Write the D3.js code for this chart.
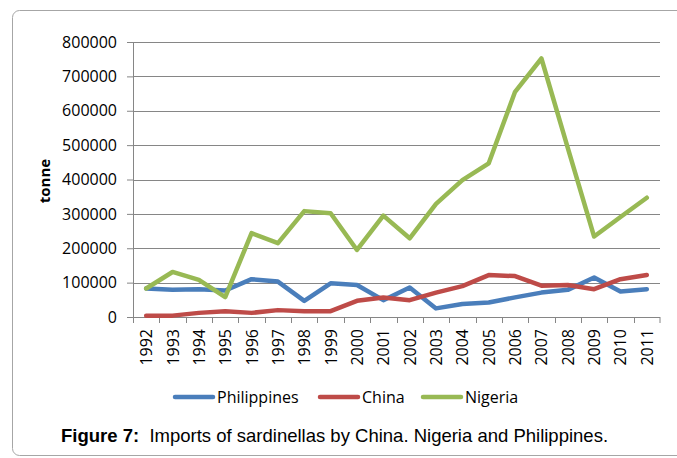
<!DOCTYPE html>
<html>
<head>
<meta charset="utf-8">
<script src="https://cdn.jsdelivr.net/npm/d3@7"></script>
<style>
  body { margin: 0; background: #fff; }
  svg text { font-family: "Open Sans", sans-serif; fill: #000; }
</style>
</head>
<body>
<script>
// data (tonnes)
const years = ["1992", "1993", "1994", "1995", "1996", "1997", "1998", "1999", "2000", "2001",
               "2002", "2003", "2004", "2005", "2006", "2007", "2008", "2009", "2010", "2011"];
const philippines = [83000, 79000, 81000, 77000, 110000, 103000, 47000, 98000, 93000, 49000,
                     86000, 25000, 38000, 42000, 57000, 71000, 79000, 115000, 74000, 81000];
const china = [4000, 4000, 12000, 17000, 12000, 20000, 17000, 17000, 47000, 57000,
               49000, 71000, 90000, 122000, 119000, 91000, 93000, 81000, 110000, 122000];
const nigeria = [83000, 131000, 108000, 58000, 244000, 215000, 308000, 302000, 195000, 295000,
                 229000, 329000, 398000, 447000, 655000, 752000, 492000, 234000, 291000, 347000];
const yTicks = [0, 100000, 200000, 300000, 400000, 500000, 600000, 700000, 800000];

const series = [
  { name: "Philippines", values: philippines, color: "#4a7ebb" },
  { name: "China", values: china, color: "#be4b48" },
  { name: "Nigeria", values: nigeria, color: "#98b954" }
];

const width = 677, height = 458;
const margin = { top: 42, right: 17, bottom: 141, left: 133 };
const w = width - margin.left - margin.right;
const h = height - margin.top - margin.bottom;

const svg = d3.select("body").append("svg")
  .attr("width", width)
  .attr("height", height);

// frame around the figure
svg.append("rect")
  .attr("x", 12.5).attr("y", 10.5)
  .attr("width", 700).attr("height", 445)
  .attr("rx", 7)
  .attr("fill", "none")
  .attr("stroke", "#a6a6a6")
  .attr("stroke-width", 1);

const g = svg.append("g")
  .attr("transform", `translate(${margin.left},${margin.top})`);

const x = d3.scaleBand().domain(years).range([0, w]).padding(0);
const y = d3.scaleLinear().domain([0, 800000]).range([h, 0]);

// gridlines
g.append("g")
  .selectAll("line")
  .data(yTicks.slice(1))
  .join("line")
  .attr("x1", 0).attr("x2", w)
  .attr("y1", d => Math.round(y(d)) + 0.5)
  .attr("y2", d => Math.round(y(d)) + 0.5)
  .attr("stroke", "#868686");

// y axis
const yAxis = g.append("g")
  .call(d3.axisLeft(y).tickValues(yTicks).tickSize(6).tickPadding(10).tickFormat(d3.format("d")));
yAxis.select(".domain").attr("stroke", "#868686");
yAxis.selectAll(".tick line").attr("stroke", "#868686");
yAxis.selectAll("text").attr("font-size", 16).attr("font-family", "Open Sans");

// x axis: line, ticks between categories, rotated labels
const xAxis = g.append("g").attr("transform", `translate(0,${h})`);
xAxis.append("line")
  .attr("x1", 0).attr("x2", w).attr("y1", 0.5).attr("y2", 0.5)
  .attr("stroke", "#868686");
xAxis.selectAll(".xt")
  .data(years.concat(["end"]))
  .join("line")
  .attr("class", "xt")
  .attr("x1", d => d === "end" ? w : Math.round(x(d)) + 0.5)
  .attr("x2", d => d === "end" ? w : Math.round(x(d)) + 0.5)
  .attr("y1", 0).attr("y2", 6)
  .attr("stroke", "#868686");
xAxis.selectAll(".xl")
  .data(years)
  .join("text")
  .attr("class", "xl")
  .attr("transform", d => `translate(${x(d) + x.bandwidth() / 2 + 6},${12}) rotate(-90)`)
  .attr("text-anchor", "end")
  .attr("font-size", 16)
  .text(d => d);

// y title
svg.append("text")
  .attr("transform", "translate(50,181) rotate(-90)")
  .attr("text-anchor", "middle")
  .attr("font-size", 15)
  .attr("font-weight", "bold")
  .text("tonne");

// lines
const line = d3.line()
  .x((d, i) => x(years[i]) + x.bandwidth() / 2)
  .y(d => y(d));

g.selectAll(".series")
  .data(series)
  .join("path")
  .attr("class", "series")
  .attr("fill", "none")
  .attr("stroke", d => d.color)
  .attr("stroke-width", 4.5)
  .attr("stroke-linejoin", "round")
  .attr("stroke-linecap", "round")
  .attr("d", d => line(d.values));

// legend
const legendX = [175, 320, 423];
const legend = svg.append("g").attr("transform", "translate(0,397)");
const item = legend.selectAll(".item")
  .data(series)
  .join("g")
  .attr("class", "item")
  .attr("transform", (d, i) => `translate(${legendX[i]},0)`);
item.append("line")
  .attr("x1", 0).attr("x2", 38).attr("y1", 0).attr("y2", 0)
  .attr("stroke", d => d.color)
  .attr("stroke-width", 4.5)
  .attr("stroke-linecap", "round");
item.append("text")
  .attr("x", 42).attr("y", 5.5)
  .attr("font-size", 16)
  .text(d => d.name);

// caption
const cap = svg.append("text")
  .attr("x", 61).attr("y", 442)
  .attr("font-size", 18.5)
  .style("font-family", "'Liberation Sans', Arial, sans-serif")
  .attr("xml:space", "preserve");
cap.append("tspan").attr("font-weight", "bold").text("Figure 7:");
cap.append("tspan").text("  Imports of sardinellas by China. Nigeria and Philippines.");
</script>
</body>
</html>
